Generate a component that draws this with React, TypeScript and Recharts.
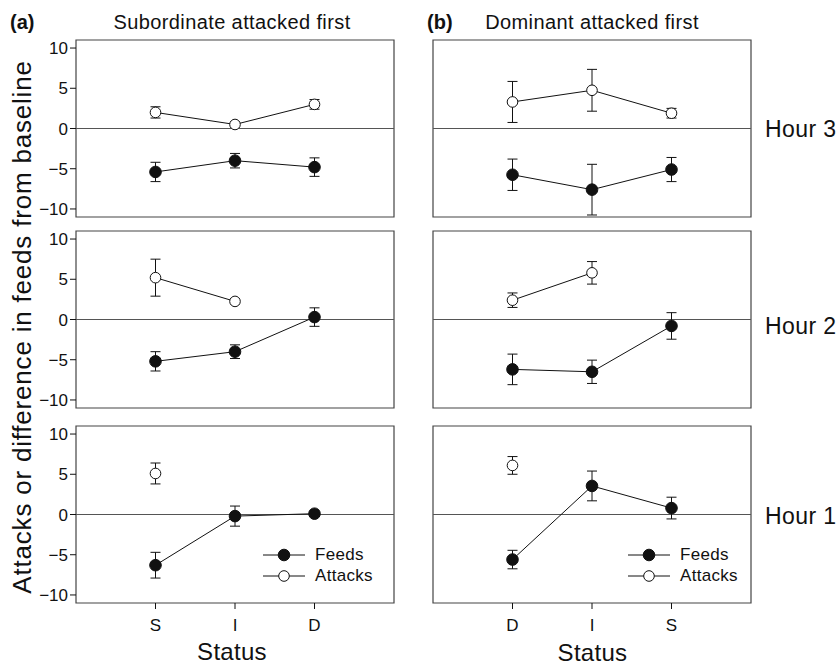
import {
    ComposedChart,
    Line,
    XAxis,
    YAxis,
    ErrorBar,
    ReferenceLine,
    ReferenceArea,
    Legend
} from 'recharts'

const STATUS_SUB = ['S', 'I', 'D']
const STATUS_DOM = ['D', 'I', 'S']
const HOURS = ['Hour 3', 'Hour 2', 'Hour 1']
const Y_TICKS = [-10, -5, 0, 5, 10]
const SERIES_ORDER = ['Feeds', 'Attacks']

// (a) Subordinate attacked first
const subFeedsH3 = [-5.4, -4.0, -4.8]
const subFeedsErrH3 = [1.2, 0.9, 1.15]
const subAttacksH3 = [2.0, 0.5, 3.0]
const subAttacksErrH3 = [0.7, 0.3, 0.6]

const subFeedsH2 = [-5.2, -4.0, 0.3]
const subFeedsErrH2 = [1.2, 0.85, 1.15]
const subAttacksH2 = [5.2, 2.25, null]
const subAttacksErrH2 = [2.3, 0.3, null]

const subFeedsH1 = [-6.3, -0.2, 0.1]
const subFeedsErrH1 = [1.6, 1.25, 0.3]
const subAttacksH1 = [5.1, null, null]
const subAttacksErrH1 = [1.3, null, null]

// (b) Dominant attacked first
const domFeedsH3 = [-5.75, -7.6, -5.1]
const domFeedsErrH3 = [1.95, 3.15, 1.5]
const domAttacksH3 = [3.3, 4.75, 1.9]
const domAttacksErrH3 = [2.55, 2.6, 0.6]

const domFeedsH2 = [-6.2, -6.5, -0.8]
const domFeedsErrH2 = [1.9, 1.45, 1.65]
const domAttacksH2 = [2.4, 5.8, null]
const domAttacksErrH2 = [0.9, 1.4, null]

const domFeedsH1 = [-5.6, 3.55, 0.8]
const domFeedsErrH1 = [1.15, 1.85, 1.35]
const domAttacksH1 = [6.1, null, null]
const domAttacksErrH1 = [1.1, null, null]

const FONT = '"Liberation Sans", Arial, Helvetica, sans-serif'
const INK = '#111'
const BOX_W = 318
const BOX_H = 177
const COL_LEFT = [76, 433]
const ROW_TOP = [40, 231, 426]
const M_TOP = 5
const M_RIGHT = 5

type Num = number | null

const makeDot = (filled: boolean) => (props: any) => {
    const { cx, cy, index, value } = props
    if (value == null || cy == null || isNaN(cy)) return <g key={`d-${index}`} />
    return (
        <circle
            key={`d-${index}`}
            cx={cx}
            cy={cy}
            r={filled ? 5.8 : 5.3}
            fill={filled ? INK : '#fff'}
            stroke={INK}
            strokeWidth={1}
        />
    )
}

function LegendContent({ payload }: any) {
    const items = [...(payload || [])].sort(
        (a: any, b: any) => SERIES_ORDER.indexOf(a.value) - SERIES_ORDER.indexOf(b.value)
    )
    return (
        <div style={{ fontFamily: FONT, fontSize: 17, letterSpacing: 0.3, color: INK }}>
            {items.map((p: any) => (
                <div key={p.value} style={{ display: 'flex', alignItems: 'center', height: 21 }}>
                    <svg width={42} height={14} style={{ marginRight: 10 }}>
                        <line x1={0} x2={42} y1={7} y2={7} stroke={INK} />
                        <circle
                            cx={21}
                            cy={7}
                            r={p.value === 'Feeds' ? 5.8 : 5.3}
                            fill={p.value === 'Feeds' ? INK : '#fff'}
                            stroke={INK}
                        />
                    </svg>
                    <span>{p.value}</span>
                </div>
            ))}
        </div>
    )
}

interface PanelProps {
    col: number
    row: number
    status: string[]
    feeds: Num[]
    feedsErr: Num[]
    attacks: Num[]
    attacksErr: Num[]
}

function Panel({ col, row, status, feeds, feedsErr, attacks, attacksErr }: PanelProps) {
    const showYLabels = col === 0
    const isBottom = row === 2
    const yw = showYLabels ? 70 : 10
    const xh = 40
    const width = yw + BOX_W + M_RIGHT
    const height = M_TOP + BOX_H + (isBottom ? xh : 3)
    const left = COL_LEFT[col] - yw
    const top = ROW_TOP[row] - M_TOP

    const data = status.map((s, i) => ({
        x: i + 1,
        feeds: feeds[i],
        feedsErr: feedsErr[i],
        attacks: attacks[i],
        attacksErr: attacksErr[i]
    }))

    return (
        <div style={{ position: 'absolute', left, top }}>
            <ComposedChart
                width={width}
                height={height}
                data={data}
                margin={{ top: M_TOP, right: M_RIGHT, bottom: isBottom ? 0 : 3, left: 0 }}
            >
                {isBottom ? (
                    <XAxis
                        dataKey="x"
                        type="number"
                        domain={[0, 4]}
                        ticks={[1, 2, 3]}
                        tickFormatter={(v: number) => status[v - 1]}
                        height={xh}
                        axisLine={false}
                        tickLine={{ stroke: INK }}
                        tickSize={6}
                        tickMargin={10}
                        tick={{ fill: INK, fontSize: 17, fontFamily: FONT }}
                    />
                ) : (
                    <XAxis
                        dataKey="x"
                        type="number"
                        domain={[0, 4]}
                        ticks={[1, 2, 3]}
                        mirror
                        tick={false}
                        axisLine={false}
                        tickLine={{ stroke: '#555' }}
                        tickSize={3}
                    />
                )}
                <YAxis
                    type="number"
                    domain={[-11, 11]}
                    ticks={Y_TICKS}
                    width={yw}
                    axisLine={false}
                    tickLine={{ stroke: INK }}
                    tickSize={6}
                    tick={showYLabels ? { fill: INK, fontSize: 17, fontFamily: FONT } : false}
                    tickFormatter={(v: number) => (v < 0 ? `\u2212${-v}` : `${v}`)}
                />
                <ReferenceArea x1={0} x2={4} y1={-11} y2={11} fill="none" stroke="#444" strokeWidth={1.2} />
                <ReferenceLine y={0} stroke="#555" strokeWidth={1.2} />
                <Line
                    dataKey="feeds"
                    name="Feeds"
                    stroke={INK}
                    strokeWidth={1}
                    dot={makeDot(true)}
                    activeDot={false}
                    connectNulls={false}
                    isAnimationActive={false}
                >
                    <ErrorBar dataKey="feedsErr" width={5} stroke={INK} strokeWidth={1} direction="y" />
                </Line>
                <Line
                    dataKey="attacks"
                    name="Attacks"
                    stroke={INK}
                    strokeWidth={1}
                    dot={makeDot(false)}
                    activeDot={false}
                    connectNulls={false}
                    isAnimationActive={false}
                >
                    <ErrorBar dataKey="attacksErr" width={5} stroke={INK} strokeWidth={1} direction="y" />
                </Line>
                {isBottom && (
                    <Legend
                        layout="horizontal"
                        verticalAlign="middle"
                        align="center"
                        content={<LegendContent />}
                        wrapperStyle={{
                            left: col === 0 ? 257 : 205,
                            top: 123.5,
                            width: 'auto',
                            height: 'auto'
                        }}
                    />
                )}
            </ComposedChart>
        </div>
    )
}

const text = (extra: React.CSSProperties): React.CSSProperties => ({
    position: 'absolute',
    fontFamily: FONT,
    color: INK,
    lineHeight: 1,
    whiteSpace: 'nowrap',
    ...extra
})

export default function App() {
    const hourCenters = [129, 326, 516]
    return (
        <div style={{ position: 'absolute', left: 0, top: 0, width: 839, height: 665, background: '#fff' }}>
            <Panel col={0} row={0} status={STATUS_SUB} feeds={subFeedsH3} feedsErr={subFeedsErrH3} attacks={subAttacksH3} attacksErr={subAttacksErrH3} />
            <Panel col={0} row={1} status={STATUS_SUB} feeds={subFeedsH2} feedsErr={subFeedsErrH2} attacks={subAttacksH2} attacksErr={subAttacksErrH2} />
            <Panel col={0} row={2} status={STATUS_SUB} feeds={subFeedsH1} feedsErr={subFeedsErrH1} attacks={subAttacksH1} attacksErr={subAttacksErrH1} />
            <Panel col={1} row={0} status={STATUS_DOM} feeds={domFeedsH3} feedsErr={domFeedsErrH3} attacks={domAttacksH3} attacksErr={domAttacksErrH3} />
            <Panel col={1} row={1} status={STATUS_DOM} feeds={domFeedsH2} feedsErr={domFeedsErrH2} attacks={domAttacksH2} attacksErr={domAttacksErrH2} />
            <Panel col={1} row={2} status={STATUS_DOM} feeds={domFeedsH1} feedsErr={domFeedsErrH1} attacks={domAttacksH1} attacksErr={domAttacksErrH1} />

            <div style={text({ left: 10, top: 21.7 - 9.8, fontSize: 20, fontWeight: 'bold' })}>(a)</div>
            <div style={text({ left: 232, top: 21.7 - 9.8, fontSize: 20, letterSpacing: 0.4, transform: 'translateX(-50%)' })}>
                Subordinate attacked first
            </div>
            <div style={text({ left: 427, top: 21.7 - 9.8, fontSize: 20, fontWeight: 'bold' })}>(b)</div>
            <div style={text({ left: 592, top: 21.7 - 9.8, fontSize: 20, letterSpacing: 0.4, transform: 'translateX(-50%)' })}>
                Dominant attacked first
            </div>

            {HOURS.map((h, i) => (
                <div key={h} style={text({ left: 765, top: hourCenters[i] - 11.3, fontSize: 23, letterSpacing: 0.4 })}>
                    {h}
                </div>
            ))}

            <div
                style={text({
                    left: 22,
                    top: 327,
                    fontSize: 26,
                    letterSpacing: 0.8,
                    transform: 'translate(-50%, -50%) rotate(-90deg)'
                })}
            >
                Attacks or difference in feeds from baseline
            </div>

            <div style={text({ left: 232, top: 652 - 11.8, fontSize: 24, letterSpacing: 0.3, transform: 'translateX(-50%)' })}>
                Status
            </div>
            <div style={text({ left: 592.5, top: 652.5 - 11.8, fontSize: 24, letterSpacing: 0.3, transform: 'translateX(-50%)' })}>
                Status
            </div>
        </div>
    )
}
